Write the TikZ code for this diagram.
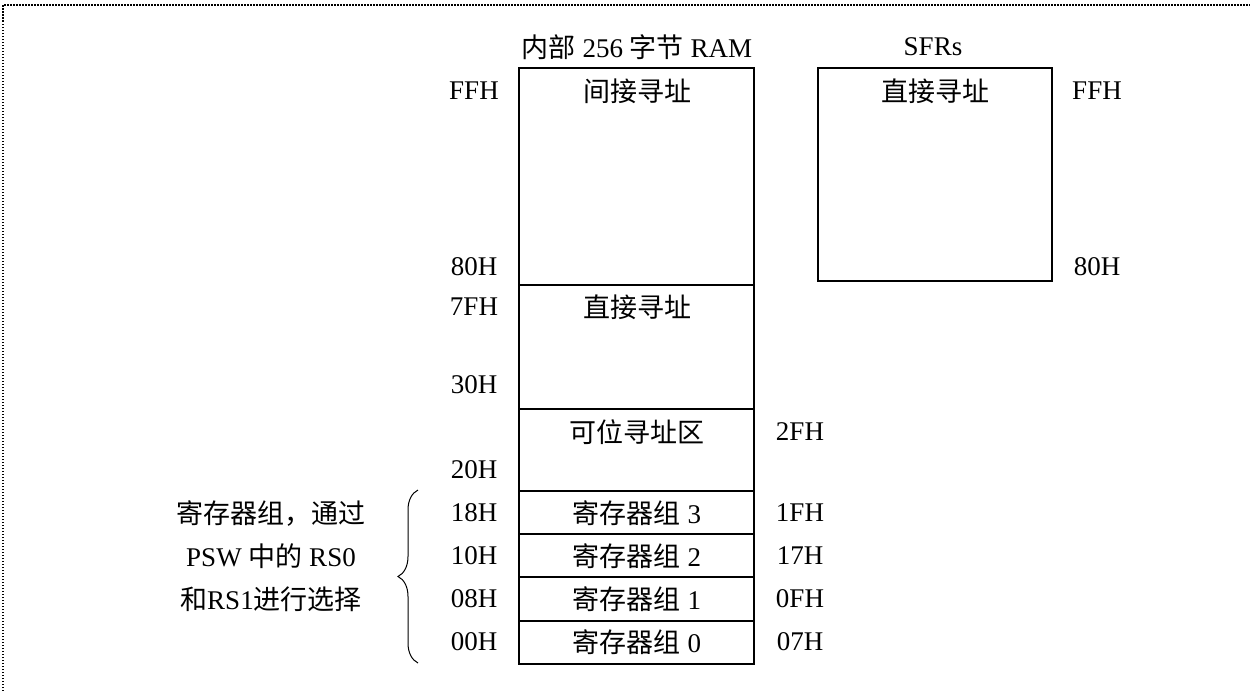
\documentclass[tikz,border=0pt]{standalone}
\usepackage{fontspec}
\setmainfont{Liberation Serif}
\newfontfamily\cjk{Noto Sans CJK SC}
\usetikzlibrary{decorations.pathreplacing,positioning}

\begin{document}
\begin{tikzpicture}[x=0.5pt,y=-0.5pt,
    box/.style={line width=1pt},
    lbl/.style={font=\fontsize{13.5}{21.5}\selectfont, inner sep=0pt},
    frame/.style={line width=0.75pt, dash pattern=on 0.75pt off 0.75pt}]
    \useasboundingbox (0,0) rectangle (1250,691);
    % dotted frame
    \draw[frame] (3,691) -- (3,5) -- (1250,5);
    % internal RAM and SFRs
    \draw[box] (519,68) rectangle (754,664);
    \foreach \y in {285,409,491,534,577,621} {
        \draw[box] (519,\y) -- (754,\y);
    }
    \draw[box] (818,68) rectangle (1052,281);
    \node[lbl] (ramtitle) at (637,47) {{\cjk 内部} 256 {\cjk 字节} RAM};
    \node[lbl] (sfrtitle) at (933,47) {SFRs};
    \node[lbl] (indirect) at (637,91) {\cjk 间接寻址};
    \node[lbl] (sfrdirect) at (935,91) {\cjk 直接寻址};
    \node[lbl] (direct) at (637,307) {\cjk 直接寻址};
    \node[lbl] (bitarea) at (637,432) {\cjk 可位寻址区};
    \foreach \n/\y in {3/513, 2/556, 1/599, 0/642} {
        \node[lbl] (bank\n) at (637,\y) {{\cjk 寄存器组} \n};
    }
    % addresses
    \foreach \a/\y in {FFH/91, 80H/267, 7FH/307, 30H/385, 20H/470, 18H/513, 10H/556, 08H/599, 00H/642} {
        \node[lbl] (l\a) at (474,\y) {\a};
    }
    \foreach \a/\y in {2FH/432, 1FH/513, 17H/556, 0FH/599, 07H/642} {
        \node[lbl] (r\a) at (800,\y) {\a};
    }
    \foreach \a/\y in {FFH/91, 80H/267} {
        \node[lbl] (s\a) at (1097,\y) {\a};
    }
    % register bank note
    \node[lbl, align=center] (note) at (271,556)
        {{\cjk 寄存器组，通过}\\PSW {\cjk 中的} RS0\\{\cjk 和}RS1{\cjk 进行选择}};
    \coordinate (bracetop) at (418,490);
    \coordinate (bracebot) at (418,663);
    \draw[line width=0.5pt, decorate, decoration={brace, amplitude=10pt}] (bracebot) -- (bracetop);
\end{tikzpicture}
\end{document}
